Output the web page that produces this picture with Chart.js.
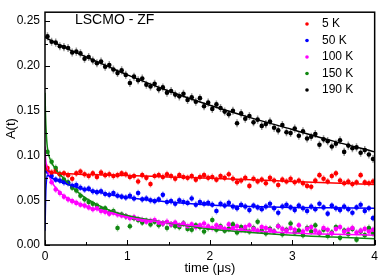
<!DOCTYPE html>
<html>
<head>
<meta charset="utf-8">
<script src="https://cdn.jsdelivr.net/npm/chart.js@4"></script>
<style>
  body { margin: 0; background: #fff; }
  #wrap { width: 382px; height: 277px; }
</style>
</head>
<body>
<div id="wrap"><canvas id="chart" width="382" height="277"></canvas></div>
<script>
// --- data ---
const times = [0.03, 0.08, 0.13, 0.18, 0.23, 0.28, 0.33, 0.38, 0.43, 0.48,
  0.53, 0.58, 0.63, 0.68, 0.73, 0.78, 0.83, 0.88, 0.93, 0.98,
  1.03, 1.08, 1.13, 1.18, 1.23, 1.28, 1.33, 1.38, 1.43, 1.48,
  1.53, 1.58, 1.63, 1.68, 1.73, 1.78, 1.83, 1.88, 1.93, 1.98,
  2.03, 2.08, 2.13, 2.18, 2.23, 2.28, 2.33, 2.38, 2.43, 2.48,
  2.53, 2.58, 2.63, 2.68, 2.73, 2.78, 2.83, 2.88, 2.93, 2.98,
  3.03, 3.08, 3.13, 3.18, 3.23, 3.28, 3.33, 3.38, 3.43, 3.48,
  3.53, 3.58, 3.63, 3.68, 3.73, 3.78, 3.83, 3.88, 3.93, 3.98];

const a5K = [0.086, 0.081, 0.083, 0.079, 0.080, 0.078, 0.074, 0.080, 0.082, 0.079,
  0.077, 0.080, 0.076, 0.081, 0.078, 0.079, 0.077, 0.078, 0.080, 0.079,
  0.076, 0.077, 0.071, 0.078, 0.075, 0.068, 0.077, 0.078, 0.076, 0.079,
  0.077, 0.074, 0.078, 0.076, 0.075, 0.077, 0.073, 0.076, 0.078, 0.075,
  0.076, 0.073, 0.077, 0.075, 0.079, 0.074, 0.070, 0.072, 0.075, 0.066,
  0.074, 0.071, 0.073, 0.069, 0.075, 0.072, 0.067, 0.073, 0.071, 0.074,
  0.070, 0.072, 0.069, 0.066, 0.065, 0.072, 0.078, 0.074, 0.071, 0.077,
  0.080, 0.072, 0.069, 0.071, 0.068, 0.070, 0.078, 0.070, 0.069, 0.071];

const a50K = [0.082, 0.077, 0.073, 0.072, 0.070, 0.069, 0.066, 0.067, 0.064, 0.062,
  0.063, 0.060, 0.059, 0.060, 0.057, 0.056, 0.058, 0.055, 0.054, 0.053,
  0.055, 0.052, 0.058, 0.051, 0.052, 0.050, 0.049, 0.051, 0.056, 0.048,
  0.049, 0.046, 0.050, 0.048, 0.047, 0.052, 0.045, 0.048, 0.046, 0.047,
  0.045, 0.038, 0.046, 0.044, 0.047, 0.043, 0.041, 0.045, 0.043, 0.039,
  0.044, 0.042, 0.040, 0.043, 0.046, 0.041, 0.036, 0.043, 0.045, 0.042,
  0.039, 0.044, 0.041, 0.038, 0.043, 0.040, 0.046, 0.042, 0.035, 0.044,
  0.041, 0.039, 0.043, 0.040, 0.036, 0.042, 0.045, 0.038, 0.041, 0.030];

const a100K = [0.083, 0.070, 0.062, 0.058, 0.054, 0.051, 0.049, 0.047, 0.045, 0.044,
  0.042, 0.040, 0.041, 0.038, 0.037, 0.035, 0.036, 0.034, 0.033, 0.032,
  0.030, 0.031, 0.029, 0.028, 0.026, 0.027, 0.028, 0.025, 0.024, 0.026,
  0.023, 0.025, 0.022, 0.024, 0.021, 0.023, 0.020, 0.022, 0.024, 0.021,
  0.019, 0.022, 0.020, 0.018, 0.023, 0.019, 0.021, 0.017, 0.020, 0.022,
  0.018, 0.016, 0.020, 0.019, 0.017, 0.015, 0.021, 0.018, 0.016, 0.019,
  0.017, 0.022, 0.015, 0.018, 0.020, 0.016, 0.014, 0.019, 0.017, 0.013,
  0.018, 0.020, 0.015, 0.017, 0.019, 0.014, 0.016, 0.018, 0.015, 0.017];

const a150K = [0.104, 0.093, 0.086, 0.079, 0.073, 0.070, 0.064, 0.061, 0.055, 0.051,
  0.048, 0.046, 0.044, 0.040, 0.041, 0.036, 0.038, 0.019, 0.034, 0.032,
  0.021, 0.030, 0.028, 0.025, 0.027, 0.023, 0.026, 0.022, 0.024, 0.019,
  0.023, 0.021, 0.020, 0.024, 0.018, 0.017, 0.022, 0.020, 0.015, 0.019,
  0.028, 0.017, 0.021, 0.016, 0.018, 0.023, 0.014, 0.020, 0.017, 0.015,
  0.019, 0.026, 0.016, 0.013, 0.018, 0.015, 0.021, 0.012, 0.017, 0.024,
  0.014, 0.016, 0.011, 0.019, 0.015, 0.022, 0.013, 0.017, 0.010, 0.014,
  0.020, 0.008, 0.016, 0.012, 0.018, 0.006, 0.015, 0.011, 0.019, 0.013];

const a190K = [0.233, 0.227, 0.226, 0.222, 0.221, 0.220, 0.215, 0.216, 0.214, 0.208,
  0.210, 0.206, 0.203, 0.205, 0.199, 0.201, 0.196, 0.192, 0.195, 0.190,
  0.181, 0.188, 0.184, 0.186, 0.179, 0.177, 0.180, 0.174, 0.176, 0.170,
  0.172, 0.168, 0.166, 0.169, 0.162, 0.165, 0.160, 0.164, 0.155, 0.159,
  0.152, 0.157, 0.153, 0.149, 0.146, 0.150, 0.136, 0.147, 0.141, 0.144,
  0.137, 0.140, 0.133, 0.135, 0.138, 0.131, 0.128, 0.134, 0.126, 0.125,
  0.130, 0.122, 0.127, 0.119, 0.121, 0.124, 0.112, 0.118, 0.116, 0.110,
  0.113, 0.117, 0.104, 0.111, 0.108, 0.109, 0.103, 0.106, 0.101, 0.096];

// fit curves
const fitTimes = [0, 0.005, 0.01, 0.02, 0.03, 0.05, 0.08, 0.12, 0.16, 0.2, 0.3, 0.4, 0.5, 0.75, 1, 1.5, 2, 2.5, 3, 3.5, 4];
const fit5K = [0.090, 0.088, 0.086, 0.084, 0.083, 0.082, 0.081, 0.0805, 0.080, 0.0798, 0.0795, 0.079, 0.0788, 0.0782, 0.0777, 0.076, 0.0745, 0.0728, 0.071, 0.0693, 0.0675];
const fit50K = [0.016, 0.040, 0.060, 0.074, 0.078, 0.077, 0.075, 0.073, 0.0715, 0.070, 0.067, 0.064, 0.062, 0.057, 0.053, 0.048, 0.0448, 0.043, 0.042, 0.0415, 0.041];
const fit100K = [0.110, 0.100, 0.094, 0.088, 0.084, 0.077, 0.071, 0.065, 0.061, 0.057, 0.051, 0.047, 0.043, 0.037, 0.031, 0.025, 0.0195, 0.016, 0.0135, 0.012, 0.011];
const fit150K = [0.170, 0.150, 0.135, 0.118, 0.108, 0.099, 0.092, 0.086, 0.081, 0.077, 0.067, 0.059, 0.052, 0.040, 0.033, 0.0245, 0.018, 0.014, 0.011, 0.009, 0.007];
const fit190K = [0.232, 0.2318, 0.2315, 0.231, 0.2305, 0.2295, 0.228, 0.226, 0.224, 0.2225, 0.218, 0.214, 0.210, 0.200, 0.190, 0.172, 0.156, 0.142, 0.129, 0.116, 0.104];

const seriesNames = ["5 K", "50 K", "100 K", "150 K", "190 K"];
const errSize = [0.0038, 0.0038, 0.0038, 0.0038, 0.0045];

const xTicks = [0, 1, 2, 3, 4];
const xMinor = [0.5, 1.5, 2.5, 3.5];
const yTicks = [0, 0.05, 0.10, 0.15, 0.20, 0.25];
const yMinor = [0.025, 0.075, 0.125, 0.175, 0.225];

// --- styling ---
const FONT = "Arial, 'Liberation Sans', sans-serif";
const colors = ["#ff0000", "#0000ff", "#ff00ff", "#118811", "#000000"];
const barColors = ["rgba(255,0,0,0.4)", "rgba(0,0,255,0.4)", "rgba(255,0,255,0.4)",
  "rgba(17,136,17,0.4)", "rgba(0,0,0,0.4)"];

const pointSets = [a5K, a50K, a100K, a150K, a190K];
const fitSets = [fit5K, fit50K, fit100K, fit150K, fit190K];

function toXY(xs, ys) {
  return ys.map((v, i) => ({ x: xs[i], y: v }));
}

const datasets = [];
pointSets.forEach((vals, i) => {
  datasets.push({
    label: seriesNames[i],
    data: toXY(times, vals),
    showLine: false,
    pointRadius: 2.3,
    pointBorderWidth: 0,
    pointBackgroundColor: colors[i],
    pointBorderColor: colors[i],
    errIndex: i,
    order: 1,
  });
});
fitSets.forEach((vals, i) => {
  datasets.push({
    label: "fit " + seriesNames[i],
    data: toXY(fitTimes, vals),
    showLine: true,
    pointRadius: 0,
    borderColor: colors[i],
    borderWidth: 1.5,
    cubicInterpolationMode: "monotone",
    order: 0,
  });
});

// error bars, drawn under the markers
const errorBars = {
  id: "errorBars",
  beforeDatasetsDraw(chart) {
    const { ctx, chartArea: a, scales } = chart;
    ctx.save();
    ctx.beginPath();
    ctx.rect(a.left, a.top, a.right - a.left, a.bottom - a.top);
    ctx.clip();
    ctx.lineWidth = 1.5;
    chart.data.datasets.forEach((ds) => {
      if (ds.errIndex === undefined) return;
      const e = errSize[ds.errIndex];
      ctx.strokeStyle = barColors[ds.errIndex];
      ds.data.forEach((p) => {
        const px = scales.x.getPixelForValue(p.x);
        ctx.beginPath();
        ctx.moveTo(px, scales.y.getPixelForValue(p.y - e));
        ctx.lineTo(px, scales.y.getPixelForValue(p.y + e));
        ctx.stroke();
      });
    });
    ctx.restore();
  },
};

// frame, inward ticks, legend and label
const decorations = {
  id: "decorations",
  afterDraw(chart) {
    const { ctx, chartArea: a, scales } = chart;
    ctx.save();
    ctx.strokeStyle = "#000";
    ctx.lineWidth = 1.5;
    ctx.strokeRect(a.left, a.top, a.right - a.left, a.bottom - a.top);

    ctx.lineWidth = 1;
    const tick = (vals, len, horiz) => {
      vals.forEach((v) => {
        ctx.beginPath();
        if (horiz) {
          const px = Math.round(scales.x.getPixelForValue(v)) + 0.5;
          ctx.moveTo(px, a.bottom);
          ctx.lineTo(px, a.bottom - len);
        } else {
          const py = Math.round(scales.y.getPixelForValue(v)) + 0.5;
          ctx.moveTo(a.left, py);
          ctx.lineTo(a.left + len, py);
        }
        ctx.stroke();
      });
    };
    tick(xTicks, 5, true);
    tick(xMinor, 3, true);
    tick(yTicks, 5, false);
    tick(yMinor, 3, false);

    // in-plot label
    ctx.fillStyle = "#000";
    ctx.font = "14px " + FONT;
    ctx.textBaseline = "middle";
    ctx.textAlign = "left";
    ctx.fillText("LSCMO - ZF", 75, 20);

    // legend
    ctx.font = "12px " + FONT;
    seriesNames.forEach((name, i) => {
      const y = 24 + i * 16.5;
      ctx.fillStyle = colors[i];
      ctx.beginPath();
      ctx.arc(307, y, 1.8, 0, Math.PI * 2);
      ctx.fill();
      ctx.fillStyle = "#000";
      ctx.fillText(name, 322, y);
    });
    ctx.restore();
  },
};

new Chart(document.getElementById("chart"), {
  type: "scatter",
  data: { datasets },
  options: {
    responsive: false,
    animation: false,
    layout: { padding: { top: 1, right: 6, left: 0, bottom: 0 } },
    plugins: { legend: { display: false }, tooltip: { enabled: false } },
    scales: {
      x: {
        type: "linear",
        min: 0,
        max: 4,
        afterBuildTicks: (s) => { s.ticks = xTicks.map((v) => ({ value: v })); },
        afterFit: (s) => { s.height = 32; },
        grid: { display: false, drawTicks: false },
        border: { display: false },
        ticks: { color: "#000", font: { size: 12, family: FONT }, padding: 4, maxRotation: 0,
          callback: (v) => String(v) },
        title: { display: true, text: "time (μs)", color: "#000",
          font: { size: 13, family: FONT }, padding: { top: 0, bottom: 1 } },
      },
      y: {
        type: "linear",
        min: 0,
        max: 0.26,
        afterBuildTicks: (s) => { s.ticks = yTicks.map((v) => ({ value: v })); },
        afterFit: (s) => { s.width = 45; },
        grid: { display: false, drawTicks: false },
        border: { display: false },
        ticks: { color: "#000", font: { size: 12, family: FONT }, padding: 5,
          callback: (v) => v.toFixed(2) },
        title: { display: true, text: "A(t)", color: "#000",
          font: { size: 13, family: FONT }, padding: { top: 4, bottom: 0 } },
      },
    },
  },
  plugins: [errorBars, decorations],
});
</script>
</body>
</html>
